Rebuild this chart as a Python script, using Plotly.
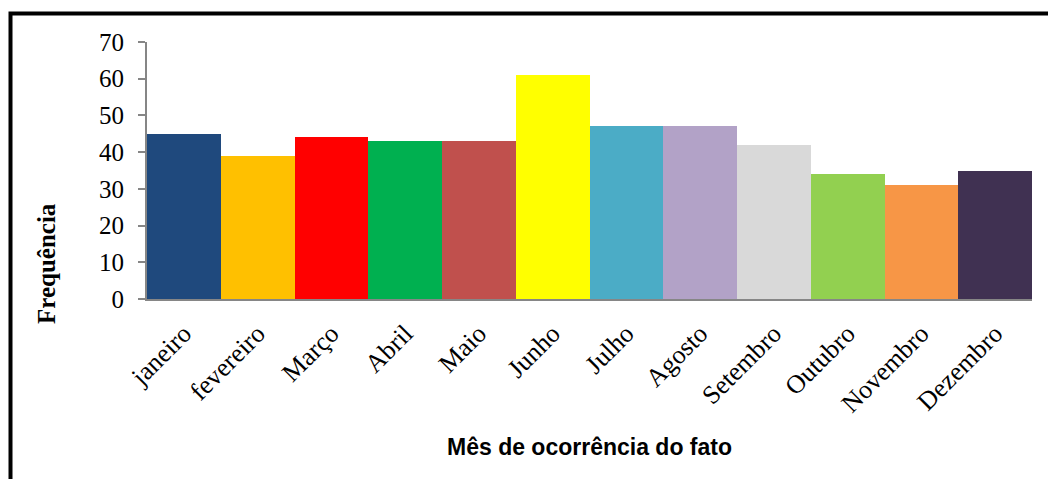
import plotly.graph_objects as go

months = ["janeiro", "fevereiro", "Março", "Abril", "Maio", "Junho",
          "Julho", "Agosto", "Setembro", "Outubro", "Novembro", "Dezembro"]
freq = [45, 39, 44, 43, 43, 61, 47, 47, 42, 34, 31, 35]
colors = ["#1F497D", "#FFC000", "#FF0000", "#00B050", "#C0504D", "#FFFF00",
          "#4BACC6", "#B2A2C7", "#D9D9D9", "#92D050", "#F79646", "#403152"]
y_ticks = [0, 10, 20, 30, 40, 50, 60, 70]

W, H = 1048, 479
ml, mr, mt, mb = 147, 16, 42, 180
pw, ph = W - ml - mr, H - mt - mb

def px_x(x):
    return (x - ml) / pw

def px_y(y):
    return (H - mb - y) / ph

fig = go.Figure(go.Bar(x=months, y=freq, marker=dict(color=colors, line=dict(width=0)),
                       showlegend=False))

fig.update_layout(
    width=W, height=H,
    margin=dict(l=ml, r=mr, t=mt, b=mb),
    paper_bgcolor="white", plot_bgcolor="white",
    bargap=0,
    font=dict(family="Liberation Serif", color="black"),
    xaxis=dict(showline=True, linecolor="#868686", linewidth=2, ticks="",
               tickangle=-45, tickfont=dict(size=26, family="Liberation Serif"),
               ticklabelstandoff=7, showgrid=False),
    yaxis=dict(range=[0, 70], tickvals=y_ticks, showline=True, linecolor="#868686",
               linewidth=2, ticks="outside", ticklen=7, tickcolor="#868686",
               tickwidth=1.5, showgrid=False, zeroline=False,
               tickfont=dict(size=25, family="Liberation Serif"), ticklabelstandoff=9),
    shapes=[dict(type="rect", xref="paper", yref="paper",
                 x0=px_x(10.5), x1=px_x(1060), y0=px_y(13.5), y1=px_y(495),
                 line=dict(color="black", width=4), fillcolor="rgba(0,0,0,0)")],
    annotations=[
        dict(text="<b>Frequência</b>", xref="paper", yref="paper",
             x=px_x(46), y=px_y(264), xanchor="center", yanchor="middle",
             textangle=-90, showarrow=False,
             font=dict(size=25, family="Liberation Serif")),
        dict(text="<b>Mês de ocorrência do fato</b>", xref="paper", yref="paper",
             x=px_x(589), y=px_y(447), xanchor="center", yanchor="middle",
             showarrow=False,
             font=dict(size=23, family="Liberation Sans")),
    ],
)

fig.write_html("out.html")
